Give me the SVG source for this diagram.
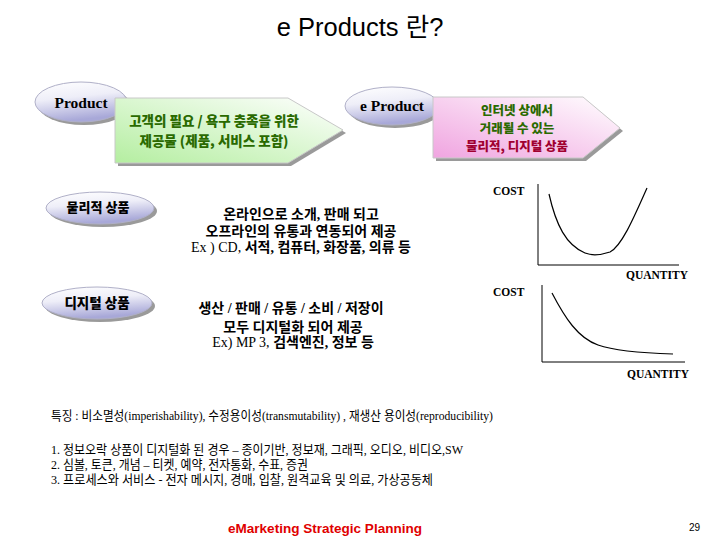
<svg xmlns="http://www.w3.org/2000/svg" width="720" height="540" viewBox="0 0 720 540">
<defs>
<linearGradient id="gEll" x1="0" y1="0" x2="0.25" y2="1">
<stop offset="0" stop-color="#ffffff"/>
<stop offset="0.45" stop-color="#eeeef8"/>
<stop offset="1" stop-color="#a8a8d8"/>
</linearGradient>
<linearGradient id="gGreen" x1="1" y1="0" x2="0" y2="1">
<stop offset="0" stop-color="#ffffff"/>
<stop offset="1" stop-color="#b4eea0"/>
</linearGradient>
<linearGradient id="gPink" x1="1" y1="0" x2="0" y2="1">
<stop offset="0" stop-color="#ffffff"/>
<stop offset="1" stop-color="#f0a4e0"/>
</linearGradient>
</defs>
<style>
.ell{fill:url(#gEll);stroke:#b0b0c8;stroke-width:1}
.shd{fill:#9a9a9a}
.pent{stroke:#c8c8c8;stroke-width:1}
.lt{font-family:"Liberation Serif","Noto Sans CJK KR",serif;font-weight:bold;font-size:15.5px;fill:#000;text-anchor:middle}
.kb{font-family:"Noto Sans CJK KR",sans-serif;font-weight:900;text-anchor:middle}
.mid{font-family:"Liberation Serif","Noto Sans CJK KR",serif;font-weight:bold;font-size:14px;fill:#000;text-anchor:middle}
.ax{fill:none;stroke:#000;stroke-width:1}
.cv{fill:none;stroke:#000;stroke-width:1.2}
.gl{font-family:"Liberation Serif",serif;font-weight:bold;font-size:11.5px;fill:#000}
.body{font-family:"Liberation Serif","Noto Sans CJK KR",serif;font-size:13px;fill:#000}
</style>
<rect width="720" height="540" fill="#ffffff"/>
<text x="360" y="36" font-family="Liberation Sans,Noto Sans CJK KR,sans-serif" font-size="25.5" text-anchor="middle" fill="#000">e Products 란?</text>

<g id="node-product">
<ellipse class="shd" cx="84" cy="105" rx="46" ry="20"/>
<ellipse class="ell" cx="81" cy="102" rx="46" ry="20"/>
<text class="lt" x="81" y="108">Product</text>
</g>

<g id="node-product-desc">
<polygon class="shd" points="118,101 291,101 346,133 291,166 118,166"/>
<polygon class="pent" fill="url(#gGreen)" points="115,98 288,98 343,130 288,163 115,163"/>
<text class="kb" x="214" y="126" font-size="13.5" fill="#2a6a00">고객의 필요 / 욕구 충족을 위한</text>
<text class="kb" x="214" y="146" font-size="13.5" fill="#2a6a00">제공물 (제품, 서비스 포함)</text>
</g>

<g id="node-eproduct">
<ellipse class="shd" cx="395" cy="109" rx="47" ry="19"/>
<ellipse class="ell" cx="392" cy="106" rx="47" ry="19"/>
<text class="lt" x="392" y="111">e Product</text>
</g>

<g id="node-eproduct-desc">
<polygon class="shd" points="436,100 586,100 623,131 586,161 436,161"/>
<polygon class="pent" fill="url(#gPink)" points="433,97 583,97 620,128 583,158 433,158"/>
<text class="kb" x="517" y="115" font-size="12.5" fill="#2a6a00">인터넷 상에서</text>
<text class="kb" x="517" y="133" font-size="12.5" fill="#2a6a00">거래될 수 있는</text>
<text class="kb" x="517" y="151" font-size="12.5" fill="#a00030">물리적, 디지털 상품</text>
</g>

<g id="node-physical">
<ellipse class="shd" cx="103" cy="211" rx="54" ry="16"/>
<ellipse class="ell" cx="100" cy="208" rx="54" ry="16"/>
<text class="kb" x="98" y="212" font-size="13" fill="#000">물리적 상품</text>
</g>

<g id="node-physical-desc">
<text class="mid" x="301" y="219">온라인으로 소개, 판매 되고</text>
<text class="mid" x="301" y="236">오프라인의 유통과 연동되어 제공</text>
<text class="mid" x="301" y="252"><tspan font-weight="normal">Ex ) CD,</tspan> 서적, 컴퓨터, 화장품, 의류 등</text>
</g>

<g id="node-digital">
<ellipse class="shd" cx="100" cy="306" rx="55" ry="16"/>
<ellipse class="ell" cx="97" cy="303" rx="55" ry="16"/>
<text class="kb" x="97" y="308" font-size="13.5" fill="#000">디지털 상품</text>
</g>

<g id="node-digital-desc">
<text class="mid" x="291" y="313">생산 / 판매 / 유통 / 소비 / 저장이</text>
<text class="mid" x="293" y="332">모두 디지털화 되어 제공</text>
<text class="mid" x="293" y="347"><tspan font-weight="normal">Ex) MP 3,</tspan> 검색엔진, 정보 등</text>
</g>

<g id="chart-physical">
<text class="gl" x="493" y="195">COST</text>
<path class="ax" d="M538,184 V265 H679"/>
<path class="cv" d="M549,194 C556,225 566,245 585,253 Q595,257 610,252 C622,246 635,215 647,188"/>
<text class="gl" x="626" y="279">QUANTITY</text>
</g>

<g id="chart-digital">
<text class="gl" x="493" y="296">COST</text>
<path class="ax" d="M542,285 V362 H685"/>
<path class="cv" d="M552,293 C565,318 578,338 598,345 C615,351 640,353 673,354"/>
<text class="gl" x="627" y="378">QUANTITY</text>
</g>

<g id="connectors"></g>

<g id="notes">
<text class="body" x="51" y="420" textLength="442" lengthAdjust="spacingAndGlyphs">특징 : 비소멸성(imperishability), 수정용이성(transmutability) , 재생산 용이성(reproducibility)</text>
<text class="body" x="51" y="454" textLength="412" lengthAdjust="spacingAndGlyphs">1. 정보오락 상품이 디지털화 된 경우 – 종이기반, 정보재, 그래픽, 오디오, 비디오,SW</text>
<text class="body" x="51" y="469" textLength="257" lengthAdjust="spacingAndGlyphs">2. 심볼, 토큰, 개념 – 티켓, 예약, 전자통화, 수표, 증권</text>
<text class="body" x="51" y="484" textLength="382" lengthAdjust="spacingAndGlyphs">3. 프로세스와 서비스  - 전자 메시지, 경매, 입찰, 원격교육 및 의료, 가상공동체</text>
</g>

<text x="228" y="533" font-family="Liberation Sans,sans-serif" font-weight="bold" font-size="13.5" fill="#e00000" textLength="194" lengthAdjust="spacingAndGlyphs">eMarketing Strategic Planning</text>
<text x="700" y="531" font-family="Liberation Sans,sans-serif" font-size="10" text-anchor="end" fill="#000">29</text>
</svg>
